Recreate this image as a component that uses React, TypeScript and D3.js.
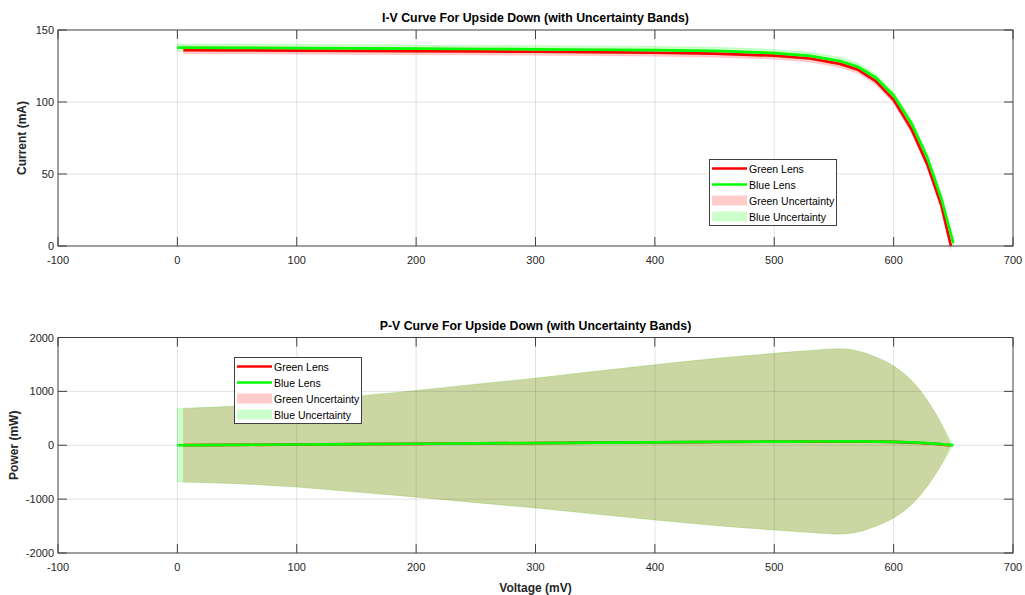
import React, { useEffect, useRef } from 'react';
import * as d3 from 'd3';

// Blue Lens (drawn green) samples
const blueVoltage = [0, 50, 100, 150, 200, 250, 300, 350, 400, 450, 500, 530, 555, 570, 585, 600, 615, 628, 640, 650];
const blueCurrent = [137.8, 137.6, 137.4, 137.2, 137.0, 136.8, 136.6, 136.3, 136.0, 135.5, 134.0, 132.0, 128.5, 124.5, 117.0, 104.5, 85.0, 62.0, 33.0, 2.0];
const blueCurrentErr = [2.5, 2.5, 2.5, 2.5, 2.5, 2.5, 2.5, 2.5, 2.5, 2.5, 2.5, 2.5, 2.5, 2.5, 2.5, 2.5, 2.5, 2.5, 2.5, 2.5];
const bluePower = [0, 6.9, 13.7, 20.6, 27.4, 34.2, 41.0, 47.7, 54.4, 61.0, 67.0, 70.0, 71.3, 71.0, 68.4, 62.7, 52.3, 38.9, 21.1, 1.3];
const bluePowerErr = [683, 720, 790, 890, 990, 1100, 1205, 1325, 1440, 1550, 1640, 1690, 1720, 1680, 1570, 1410, 1150, 805, 380, 0];

// Green Lens (drawn red) samples
const greenVoltage = [5, 50, 100, 150, 200, 250, 300, 350, 400, 450, 500, 530, 555, 570, 585, 600, 615, 628, 640, 648];
const greenCurrent = [136.0, 135.9, 135.7, 135.5, 135.3, 135.1, 134.9, 134.6, 134.2, 133.6, 132.2, 130.2, 126.5, 122.5, 114.5, 101.5, 81.0, 57.0, 28.0, 0];
const greenCurrentErr = [2.5, 2.5, 2.5, 2.5, 2.5, 2.5, 2.5, 2.5, 2.5, 2.5, 2.5, 2.5, 2.5, 2.5, 2.5, 2.5, 2.5, 2.5, 2.5, 2.5];
const greenPower = [0.7, 6.8, 13.6, 20.3, 27.1, 33.8, 40.5, 47.1, 53.7, 60.1, 66.1, 69.0, 70.2, 69.8, 67.0, 60.9, 49.8, 35.8, 17.9, 0];
const greenPowerErr = [683, 720, 790, 890, 990, 1100, 1205, 1325, 1440, 1550, 1640, 1690, 1720, 1680, 1570, 1410, 1150, 805, 380, 0];

const voltageTicks = [-100, 0, 100, 200, 300, 400, 500, 600, 700];
const currentTicks = [0, 50, 100, 150];
const powerTicks = [-2000, -1000, 0, 1000, 2000];
const legendLabels = ['Green Lens', 'Blue Lens', 'Green Uncertainty', 'Blue Uncertainty'];

const FONT = '"Liberation Sans", Arial, Helvetica, sans-serif';
const AXIS = '#404040';
const TEXT = '#262626';

type Series = { v: number[]; y: number[]; err: number[] };

function drawPanel(
  svg: d3.Selection<SVGSVGElement, unknown, null, undefined>,
  opts: {
    top: number; bottom: number; yDomain: [number, number]; yTicks: number[];
    title: string; yLabel: string; yLabelX: number; xLabel?: string;
    green: Series; blue: Series; smooth: boolean; legendX: number; legendY: number;
  }
) {
  const left = 58, right = 1013;
  const x = d3.scaleLinear().domain([-100, 700]).range([left, right]);
  const y = d3.scaleLinear().domain(opts.yDomain).range([opts.bottom, opts.top]);
  const g = svg.append('g');
  const curve = opts.smooth ? d3.curveMonotoneX : d3.curveLinear;

  g.append('rect')
    .attr('x', left).attr('y', opts.top)
    .attr('width', right - left).attr('height', opts.bottom - opts.top)
    .attr('fill', '#fff');

  const band = (s: Series) =>
    d3.area<number>()
      .x(i => x(s.v[i]))
      .y0(i => y(s.y[i] - s.err[i]))
      .y1(i => y(s.y[i] + s.err[i]))
      .curve(curve)(d3.range(s.v.length));
  const line = (s: Series) =>
    d3.line<number>()
      .x(i => x(s.v[i]))
      .y(i => y(s.y[i]))
      .curve(curve)(d3.range(s.v.length));

  // uncertainty bands
  g.append('path').attr('d', band(opts.green))
    .attr('fill', 'rgb(255,0,0)').attr('fill-opacity', 0.2)
    .attr('stroke', 'rgb(255,0,0)').attr('stroke-opacity', 0.08);
  g.append('path').attr('d', band(opts.blue))
    .attr('fill', 'rgb(0,255,0)').attr('fill-opacity', 0.2)
    .attr('stroke', 'rgb(0,255,0)').attr('stroke-opacity', 0.15);

  // grid
  voltageTicks.slice(1, -1).forEach(t => {
    g.append('line').attr('x1', x(t)).attr('x2', x(t))
      .attr('y1', opts.top).attr('y2', opts.bottom)
      .attr('stroke', 'rgba(38,38,38,0.13)');
  });
  opts.yTicks.slice(1, -1).forEach(t => {
    g.append('line').attr('x1', left).attr('x2', right)
      .attr('y1', y(t)).attr('y2', y(t))
      .attr('stroke', 'rgba(38,38,38,0.13)');
  });

  // lines
  g.append('path').attr('d', line(opts.green))
    .attr('fill', 'none').attr('stroke', '#ff0000').attr('stroke-width', 2.7)
    .attr('stroke-linejoin', 'round');
  g.append('path').attr('d', line(opts.blue))
    .attr('fill', 'none').attr('stroke', '#00ff00').attr('stroke-width', 2.7)
    .attr('stroke-linejoin', 'round');

  // box and ticks
  g.append('rect')
    .attr('x', left).attr('y', opts.top)
    .attr('width', right - left).attr('height', opts.bottom - opts.top)
    .attr('fill', 'none').attr('stroke', AXIS).attr('stroke-width', 1);
  const tl = 9;
  voltageTicks.forEach(t => {
    g.append('line').attr('x1', x(t)).attr('x2', x(t))
      .attr('y1', opts.bottom).attr('y2', opts.bottom - tl).attr('stroke', AXIS);
    g.append('line').attr('x1', x(t)).attr('x2', x(t))
      .attr('y1', opts.top).attr('y2', opts.top + tl).attr('stroke', AXIS);
    g.append('text').attr('x', x(t)).attr('y', opts.bottom + 18)
      .attr('text-anchor', 'middle').attr('font-size', 11).attr('fill', TEXT)
      .attr('font-family', FONT).text(String(t));
  });
  opts.yTicks.forEach(t => {
    g.append('line').attr('x1', left).attr('x2', left + tl)
      .attr('y1', y(t)).attr('y2', y(t)).attr('stroke', AXIS);
    g.append('line').attr('x1', right).attr('x2', right - tl)
      .attr('y1', y(t)).attr('y2', y(t)).attr('stroke', AXIS);
    g.append('text').attr('x', left - 4).attr('y', y(t) + 4)
      .attr('text-anchor', 'end').attr('font-size', 11).attr('fill', TEXT)
      .attr('font-family', FONT).text(String(t));
  });

  // title and labels
  g.append('text').attr('x', (left + right) / 2).attr('y', opts.top - 8)
    .attr('text-anchor', 'middle').attr('font-size', 12.3).attr('font-weight', 'bold')
    .attr('fill', '#000').attr('font-family', FONT).text(opts.title);
  g.append('text')
    .attr('transform', `translate(${opts.yLabelX},${(opts.top + opts.bottom) / 2}) rotate(-90)`)
    .attr('text-anchor', 'middle').attr('font-size', 12).attr('font-weight', 'bold')
    .attr('fill', TEXT).attr('font-family', FONT).text(opts.yLabel);
  if (opts.xLabel) {
    g.append('text').attr('x', (left + right) / 2).attr('y', opts.bottom + 39)
      .attr('text-anchor', 'middle').attr('font-size', 12).attr('font-weight', 'bold')
      .attr('fill', TEXT).attr('font-family', FONT).text(opts.xLabel);
  }

  // legend
  const lg = g.append('g').attr('transform', `translate(${opts.legendX},${opts.legendY})`);
  lg.append('rect').attr('x', 0.5).attr('y', 0.5).attr('width', 127).attr('height', 66)
    .attr('fill', '#fff').attr('stroke', AXIS);
  legendLabels.forEach((lab, i) => {
    const cy = 9.5 + i * 16;
    if (i < 2) {
      lg.append('line').attr('x1', 3).attr('x2', 38).attr('y1', cy).attr('y2', cy)
        .attr('stroke', i === 0 ? '#ff0000' : '#00ff00').attr('stroke-width', 2.7);
    } else {
      lg.append('rect').attr('x', 3).attr('y', cy - 5).attr('width', 35).attr('height', 10)
        .attr('fill', i === 2 ? 'rgb(255,204,204)' : 'rgb(204,255,204)');
    }
    lg.append('text').attr('x', 40).attr('y', cy + 4).attr('font-size', 10.5)
      .attr('fill', '#000').attr('font-family', FONT).text(lab);
  });
}

const App: React.FC = () => {
  const svgRef = useRef<SVGSVGElement>(null);

  useEffect(() => {
    if (!svgRef.current) return;
    const svg = d3.select(svgRef.current);
    svg.selectAll('*').remove();

    drawPanel(svg, {
      top: 30, bottom: 246, yDomain: [0, 150], yTicks: currentTicks,
      title: 'I-V Curve For Upside Down (with Uncertainty Bands)',
      yLabel: 'Current (mA)', yLabelX: 26,
      green: { v: greenVoltage, y: greenCurrent, err: greenCurrentErr },
      blue: { v: blueVoltage, y: blueCurrent, err: blueCurrentErr },
      smooth: false, legendX: 709, legendY: 159,
    });
    drawPanel(svg, {
      top: 337.5, bottom: 553, yDomain: [-2000, 2000], yTicks: powerTicks,
      title: 'P-V Curve For Upside Down (with Uncertainty Bands)',
      yLabel: 'Power (mW)', yLabelX: 18, xLabel: 'Voltage (mV)',
      green: { v: greenVoltage, y: greenPower, err: greenPowerErr },
      blue: { v: blueVoltage, y: bluePower, err: bluePowerErr },
      smooth: true, legendX: 234, legendY: 357,
    });
  }, []);

  return (
    <svg ref={svgRef} width={1025} height={595}
      style={{ position: 'absolute', left: 0, top: 0, background: '#fff' }} />
  );
};

export default App;
